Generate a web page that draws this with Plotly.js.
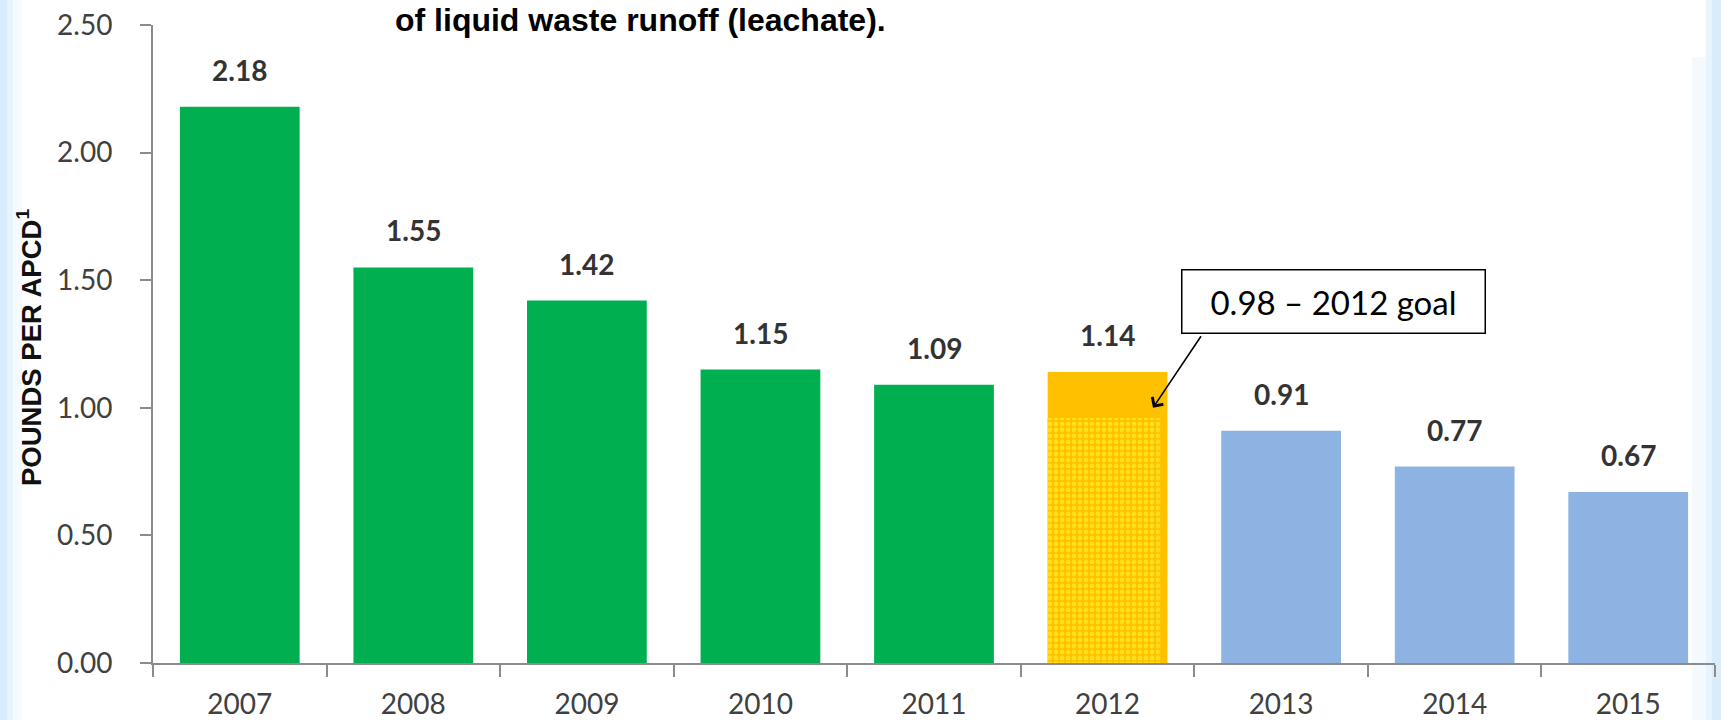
<!DOCTYPE html>
<html>
<head>
<meta charset="utf-8">
<script src="https://cdn.plot.ly/plotly-3.0.1.min.js"></script>
<style>html,body{margin:0;padding:0;background:#fff;}#chart{width:1721px;height:720px;}</style>
</head>
<body>
<div id="chart"></div>
<script>
// ---- data ----
const years = ['2007', '2008', '2009', '2010', '2011', '2012', '2013', '2014', '2015'];
const pounds = [2.18, 1.55, 1.42, 1.15, 1.09, 1.14, 0.91, 0.77, 0.67];
const phase = ['actual', 'actual', 'actual', 'actual', 'actual', 'goalYear', 'projected', 'projected', 'projected'];
const goalYear = ['2012'];
const goalPortion = [0.96];
const yTicks = [0, 0.5, 1.0, 1.5, 2.0, 2.5];
const yTickLabels = ['0.00', '0.50', '1.00', '1.50', '2.00', '2.50'];
const goalText = '0.98 – 2012 goal';
const titleText = 'of liquid waste runoff (leachate).';
const yTitle = 'POUNDS PER APCD<sup>1</sup>';

// ---- styles ----
const phaseColor = { actual: '#00B050', goalYear: '#FFC000', projected: '#8DB3E2' };
const labelFont = { family: 'Lato, "Liberation Sans", sans-serif', size: 28, color: '#333333', weight: 'bold' };
const tickFont = { family: 'Lato, "Liberation Sans", sans-serif', size: 28, color: '#404040' };

const traces = [
  {
    type: 'bar', x: years, y: pounds,
    marker: { color: phase.map(p => phaseColor[p]), line: { width: 0 } },
    width: 0.69, hoverinfo: 'x+y', showlegend: false
  },
  {
    type: 'bar', x: goalYear, y: goalPortion,
    width: 0.655, offset: -0.345,
    marker: { color: '#FFC000', line: { width: 0 },
      pattern: { shape: '.', bgcolor: '#FFC000', fgcolor: '#FFFF33', size: 6, solidity: 0.5, fillmode: 'overlay' } },
    hoverinfo: 'skip', showlegend: false
  }
];

// data labels: x given as category index on the category axis
const annotations = years.map((yr, i) => ({
  x: i, y: pounds[i], xref: 'x', yref: 'y',
  text: pounds[i].toFixed(2), showarrow: false,
  yanchor: 'middle', yshift: 37, font: labelFont
}));

annotations.push({
  xref: 'paper', yref: 'paper', x: 0, y: 0.5, xshift: -124, yshift: -4,
  text: yTitle, textangle: -90, showarrow: false, xanchor: 'center', yanchor: 'middle',
  font: { family: '"Liberation Sans", Arial, sans-serif', size: 27.5, color: '#111111', weight: 'bold' }
});

annotations.push({
  xref: 'paper', yref: 'paper', x: 0, y: 1, xshift: 240, yshift: 5,
  xanchor: 'left', yanchor: 'middle', showarrow: false, text: '<b>' + titleText + '</b>',
  font: { family: '"Liberation Sans", Arial, sans-serif', size: 32, color: '#000000' }
});

annotations.push({
  xref: 'paper', yref: 'paper', x: (1333 - 153) / 1562, y: (663 - 301) / 638,
  xanchor: 'center', yanchor: 'middle', showarrow: false, text: goalText,
  width: 302, height: 62, borderpad: 0, bordercolor: '#000000', borderwidth: 1.5, bgcolor: '#ffffff',
  font: { family: 'Lato, "Liberation Sans", sans-serif', size: 33, color: '#000000' }
});

annotations.push({
  xref: 'paper', yref: 'y', x: (1153 - 153) / 1562, y: 1.0,
  text: '', showarrow: true, axref: 'pixel', ayref: 'pixel', ax: 49, ay: -73,
  arrowhead: 4, arrowsize: 1.6, arrowwidth: 1.6, arrowcolor: '#000000', standoff: 0
});

// light blue slide edges
const px2x = p => (p - 153) / 1562;
const px2y = p => (663 - p) / 638;
const shapes = [];
[[0, 7, 1], [7, 13, 0.6], [13, 22, 0.25]].forEach(([a, b, op]) => {
  shapes.push({ type: 'rect', xref: 'paper', yref: 'paper', x0: px2x(a), x1: px2x(b), y0: px2y(720), y1: px2y(0),
    fillcolor: '#D9ECFB', opacity: op, line: { width: 0 }, layer: 'below' });
});
[[1712, 1721, 1], [1706, 1712, 0.6]].forEach(([a, b, op]) => {
  shapes.push({ type: 'rect', xref: 'paper', yref: 'paper', x0: px2x(a), x1: px2x(b), y0: px2y(720), y1: px2y(0),
    fillcolor: '#D9ECFB', opacity: op, line: { width: 0 }, layer: 'below' });
});
shapes.push({ type: 'rect', xref: 'paper', yref: 'paper', x0: px2x(1692), x1: px2x(1706), y0: px2y(720), y1: px2y(57),
  fillcolor: '#D9ECFB', opacity: 0.3, line: { width: 0 }, layer: 'below' });

const layout = {
  width: 1721, height: 720,
  margin: { l: 153, r: 6, t: 25, b: 57 },
  paper_bgcolor: '#ffffff', plot_bgcolor: '#ffffff',
  barmode: 'overlay', bargap: 0.31,
  showlegend: false,
  xaxis: {
    type: 'category', categoryorder: 'array', categoryarray: years,
    range: [-0.5, years.length - 0.5], autorange: false,
    showgrid: false, zeroline: false,
    showline: true, linecolor: '#8C8C8C', linewidth: 2,
    ticks: 'outside', tickson: 'boundaries', ticklen: 12, tickcolor: '#8C8C8C', tickwidth: 2,
    tickfont: tickFont, ticklabelstandoff: 15, tickangle: 0, fixedrange: true
  },
  yaxis: {
    range: [0, 2.5], autorange: false, showgrid: false, zeroline: false,
    showline: true, linecolor: '#8C8C8C', linewidth: 2,
    ticks: 'outside', ticklen: 11, tickcolor: '#8C8C8C', tickwidth: 2,
    tickvals: yTicks, ticktext: yTickLabels, tickfont: tickFont, ticklabelstandoff: 22, fixedrange: true
  },
  annotations: annotations,
  shapes: shapes
};

Plotly.newPlot('chart', traces, layout, { displayModeBar: false, staticPlot: true });
</script>
</body>
</html>
